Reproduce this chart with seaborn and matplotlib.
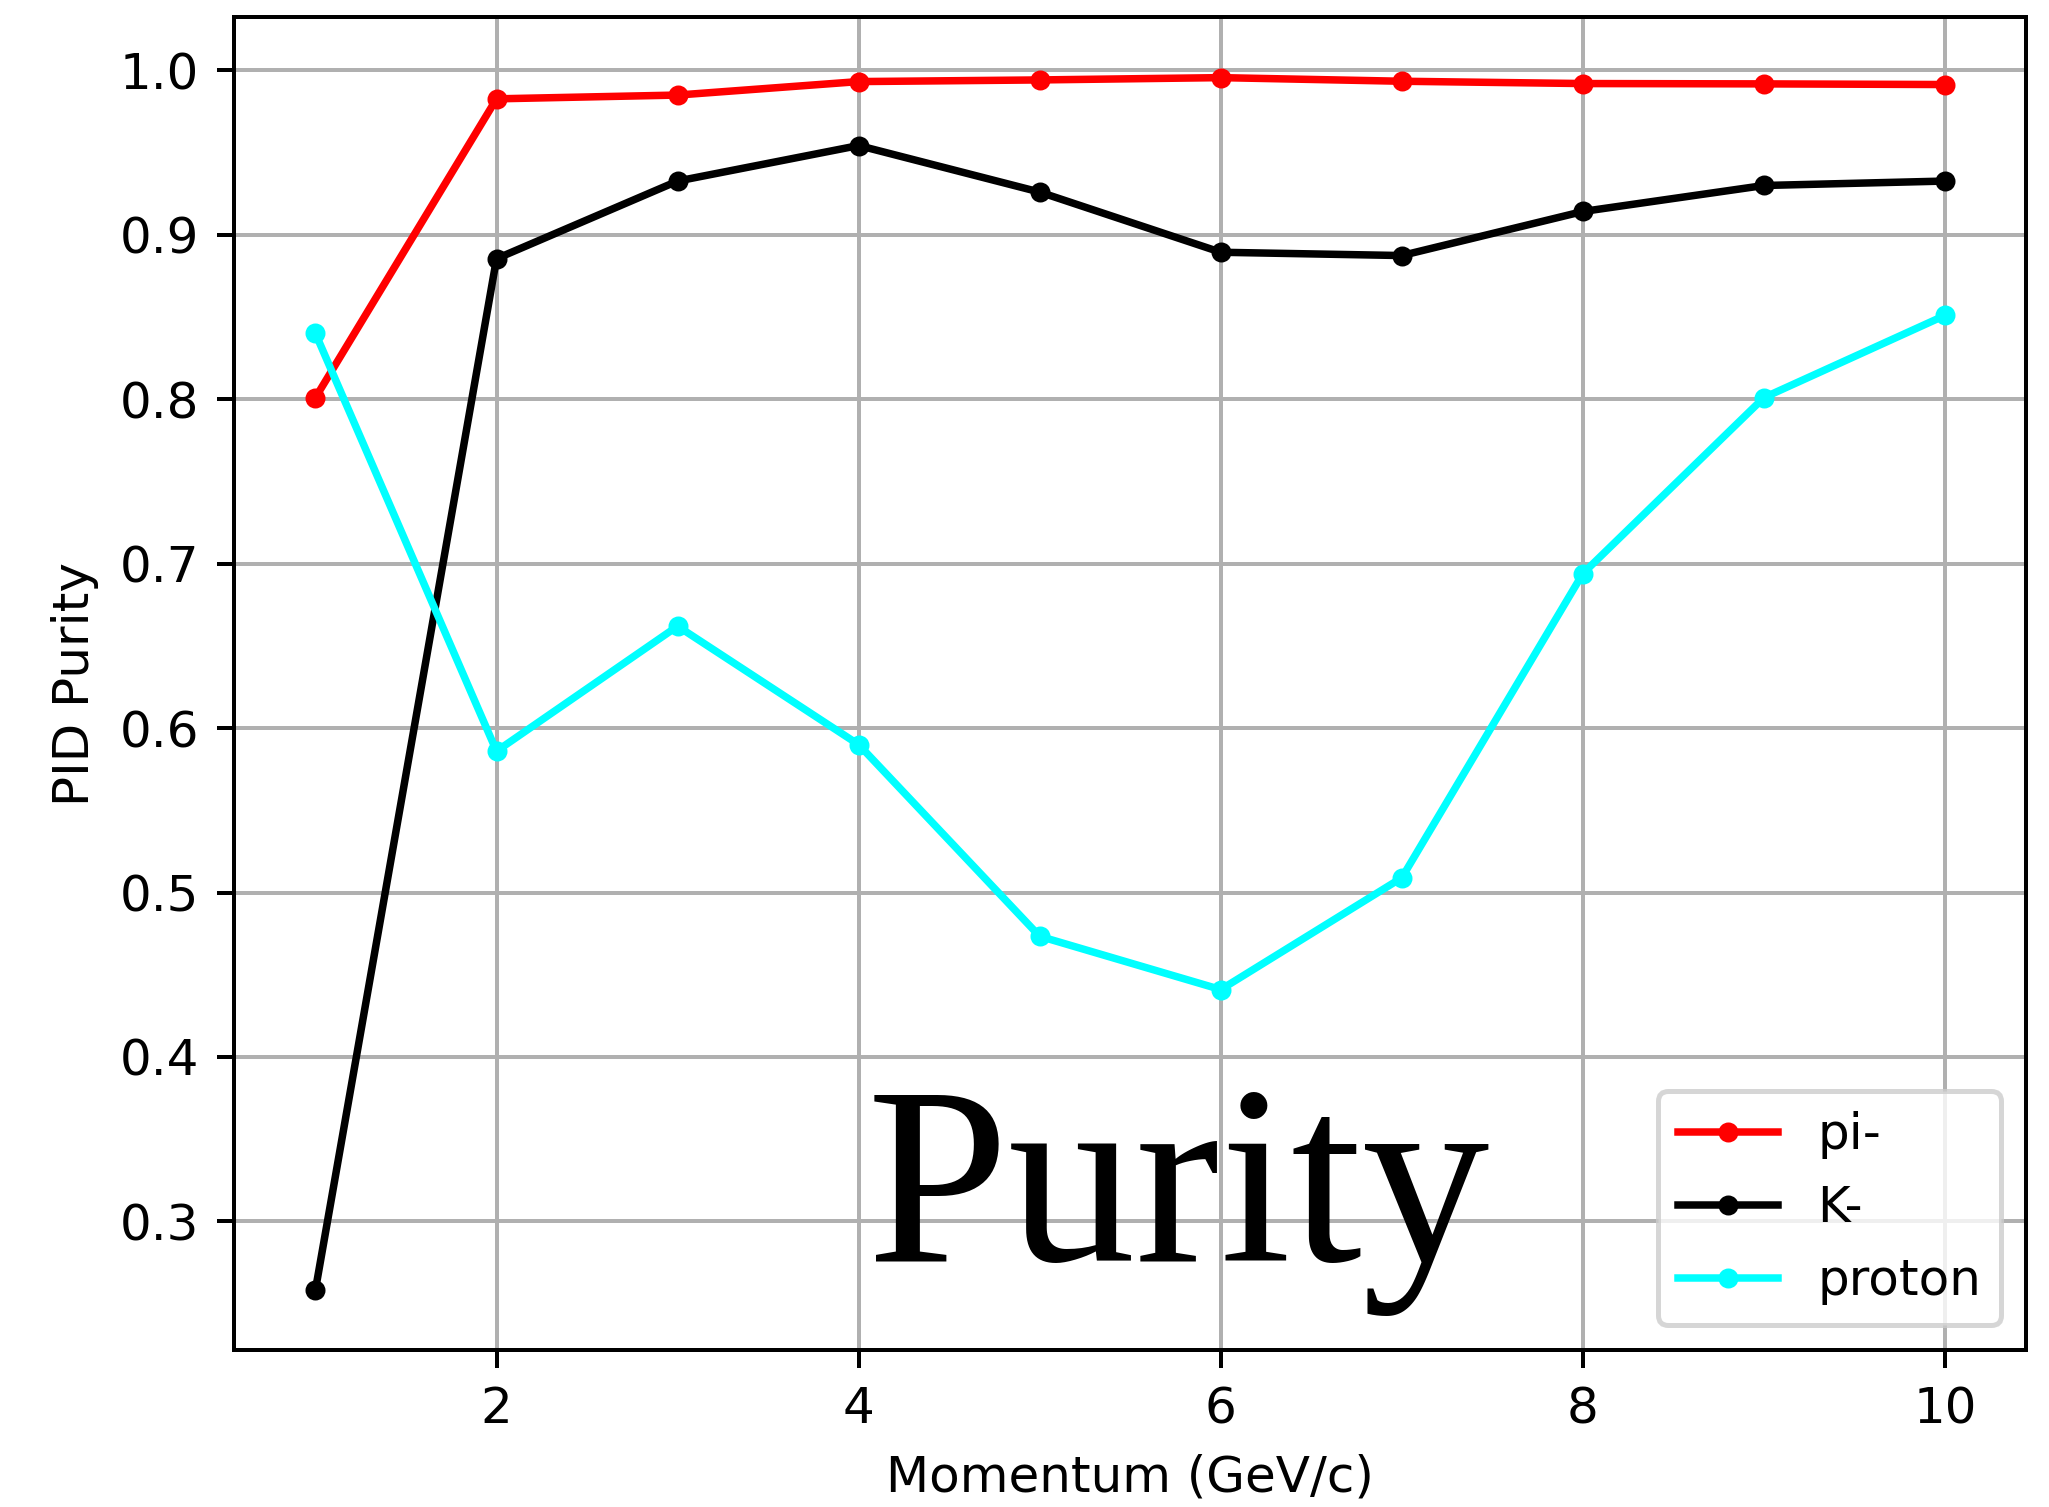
import matplotlib
matplotlib.use("Agg")
import matplotlib.pyplot as plt
import seaborn as sns
import pandas as pd

momentum = [1, 2, 3, 4, 5, 6, 7, 8, 9, 10]
pi_minus = [0.801, 0.9827, 0.9850, 0.9932, 0.9942, 0.9956, 0.9934, 0.9920, 0.9918, 0.9914]
k_minus = [0.2585, 0.8855, 0.9327, 0.9543, 0.9260, 0.8894, 0.8874, 0.9142, 0.9300, 0.9327]
proton = [0.840, 0.586, 0.662, 0.590, 0.4734, 0.441, 0.509, 0.694, 0.801, 0.851]

series_names = ["pi-", "K-", "proton"]
series_colors = ["red", "black", "cyan"]

DPI = 360
fig = plt.figure(figsize=(2049 / DPI, 1507 / DPI), dpi=DPI)
ax = fig.add_axes([0.1142, 0.104, 0.989 - 0.1142, 0.9887 - 0.104])

for name, vals, col in zip(series_names, [pi_minus, k_minus, proton], series_colors):
    df = pd.DataFrame({"Momentum": momentum, "Purity": vals})
    sns.lineplot(data=df, x="Momentum", y="Purity", ax=ax, color=col, label=name,
                 marker=".", markersize=6, markeredgecolor=col, markeredgewidth=1.0,
                 linewidth=1.5)

ax.grid(True, color="#b0b0b0", linewidth=0.8)
ax.set_axisbelow(True)
ax.set_xlabel("Momentum (GeV/c)")
ax.set_ylabel("PID Purity")
ax.set_xticks([2, 4, 6, 8, 10])
ax.margins(0.05)
ax.legend(loc="lower right")

ax.text(0.527, 0.067, "Purity", transform=ax.transAxes, ha="center", va="baseline",
        fontsize=51, family="Liberation Serif", color="black")

fig.savefig("out.png", dpi=DPI)
